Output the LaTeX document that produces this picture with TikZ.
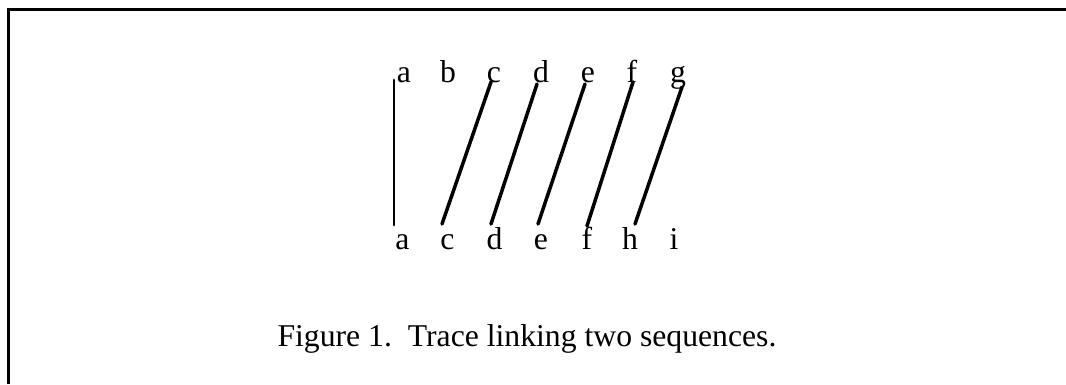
\documentclass[tikz,border=0pt]{standalone}
\usepackage{fontspec}
\setmainfont{Liberation Serif}
\usetikzlibrary{calc}
\tikzset{
  letter/.style={inner sep=0pt, anchor=base, font=\fontsize{31.7}{38}\selectfont},
  link/.style={line width=3.5pt, line cap=round},
  frame/.style={line width=3pt},
}
\begin{document}
\begin{tikzpicture}[x=1pt,y=-1pt]
\useasboundingbox (0,0) rectangle (1066,384);
\draw[frame] (8.5,384) -- (8.5,9.5) -- (1066,9.5);
% top sequence
\node[letter] (t1) at (404,82) {a};
\node[letter] (t2) at (448,82) {b};
\node[letter] (t3) at (494,82) {c};
\node[letter] (t4) at (541,82) {d};
\node[letter] (t5) at (588,82) {e};
\node[letter] (t6) at (632,82) {f};
\node[letter] (t7) at (678,82) {g};
% bottom sequence
\node[letter] (b1) at (402.5,249) {a};
\node[letter] (b2) at (447.5,249) {c};
\node[letter] (b3) at (494.5,249) {d};
\node[letter] (b4) at (541,249) {e};
\node[letter] (b5) at (587,249) {f};
\node[letter] (b6) at (630,249) {h};
\node[letter] (b7) at (674,249) {i};
% links
\draw[link, line width=2.8pt] ($(t1.base)+(-10,-2)$) -- ($(b1.base)+(-8.5,-24)$);
\draw[link] ($(t3.base)+(-3,0)$) -- ($(b2.base)+(-5.5,-25)$);
\draw[link] ($(t4.base)+(-4,2)$) -- ($(b3.base)+(-3.5,-25)$);
\draw[link] ($(t5.base)+(-3,2)$) -- ($(b4.base)+(-3,-25)$);
\draw[link] ($(t6.base)+(1,0)$) -- ($(b5.base)+(0,-23)$);
\draw[link] ($(t7.base)+(4,5)$) -- ($(b6.base)+(5,-25)$);
% caption
\node[letter] (cap) at (527,346) {Figure 1.\hspace{0.5em}Trace linking two sequences.};
\end{tikzpicture}
\end{document}
